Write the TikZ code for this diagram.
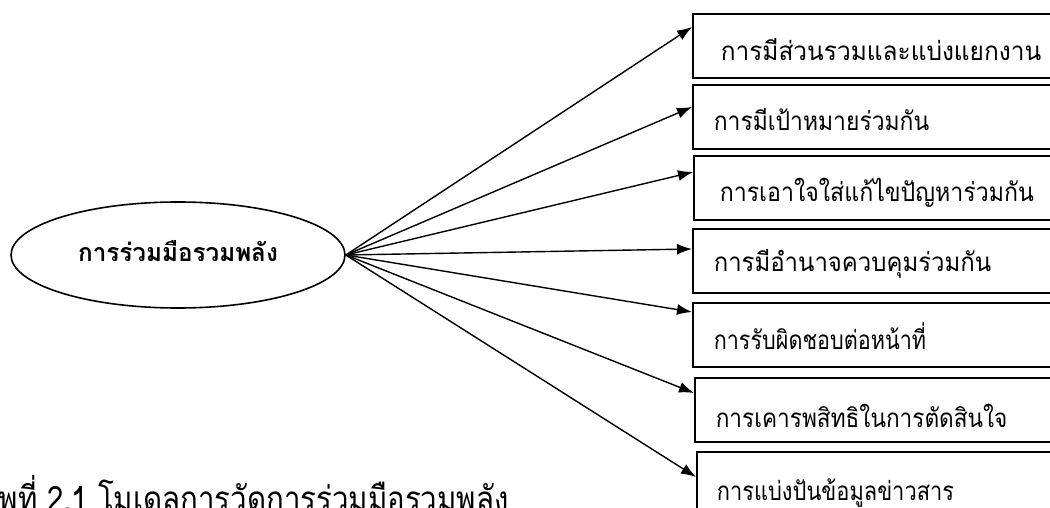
\documentclass[tikz,border=0pt]{standalone}
\usepackage{fontspec}
\usetikzlibrary{shapes.geometric,arrows.meta}
\newfontfamily\thai[Script=Thai]{Loma}
% horizontal squeeze/stretch of a label
\newcommand\hsq[2]{\scalebox{#1}[1]{#2}}
\begin{document}
\begin{tikzpicture}[x=1bp,y=-1bp,
  line width=1.6bp,
  hub/.style={draw,ellipse,inner sep=0pt,minimum width=334bp,minimum height=106bp},
  itembox/.style={draw,rectangle,anchor=north west,inner sep=0pt,minimum width=420bp,minimum height=64bp},
  itemtext/.style={anchor=base west,inner sep=0pt,font=\thai\fontsize{26bp}{29bp}\selectfont},
  hubtext/.style={anchor=base,inner sep=0pt,font=\thai\bfseries\fontsize{25bp}{28bp}\selectfont},
  captext/.style={anchor=base west,inner sep=0pt,font=\thai\fontsize{35bp}{38bp}\selectfont},
  arr/.style={-{Latex[length=15bp,width=11bp]},line width=1.4bp}]
\useasboundingbox (0,0) rectangle (1050,508);
\clip (0,0) rectangle (1050,508);

% central concept
\node[hub] (hub) at (178,255) {};
\node[hubtext] (hubl) at (178,262) {\hsq{0.97}{การร่วมมือรวมพลัง}};

% indicator boxes (they run past the right edge)
\node[itembox] (b1) at (692,13) {};
\node[itembox] (b2) at (692,84) {};
\node[itembox] (b3) at (693,155) {};
\node[itembox] (b4) at (692,228) {};
\node[itembox] (b5) at (692,302) {};
\node[itembox] (b6) at (694,377) {};
\node[itembox] (b7) at (696,451) {};

\node[itemtext] (l1) at (720,61) {\hsq{0.94}{การมีส่วนรวมและแบ่งแยกงาน}};
\node[itemtext] (l2) at (713,131) {\hsq{0.88}{การมีเป้าหมายร่วมกัน}};
\node[itemtext] (l3) at (719,202) {\hsq{0.89}{การเอาใจใส่แก้ไขปัญหาร่วมกัน}};
\node[itemtext] (l4) at (713,272) {\hsq{0.92}{การมีอำนาจควบคุมร่วมกัน}};
\node[itemtext] (l5) at (713,350) {\hsq{0.83}{การรับผิดชอบต่อหน้าที่}};
\node[itemtext] (l6) at (715,427) {\hsq{0.87}{การเคารพสิทธิในการตัดสินใจ}};
\node[itemtext] (l7) at (716,500) {\hsq{0.84}{การแบ่งปันข้อมูลข่าวสาร}};

% connectors from the hub to each box
\draw[arr] (hub.east) -- ([yshift=-14bp]b1.north west);
\draw[arr] (hub.east) -- ([yshift=-23bp]b2.north west);
\draw[arr] (hub.east) -- ([yshift=-17bp]b3.north west);
\draw[arr] (hub.east) -- ([yshift=-21bp]b4.north west);
\draw[arr] (hub.east) -- ([yshift=-10bp]b5.north west);
\draw[arr] (hub.east) -- ([yshift=-16bp]b6.north west);
\draw[arr] (hub.east) -- ([yshift=-26bp]b7.north west);

% caption, cut by the lower edge
\node[captext] (cap) at (-2,511) {\hsq{0.84}{พที่ 2.1 โมเดลการวัดการร่วมมือรวมพลัง}};
\end{tikzpicture}
\end{document}
